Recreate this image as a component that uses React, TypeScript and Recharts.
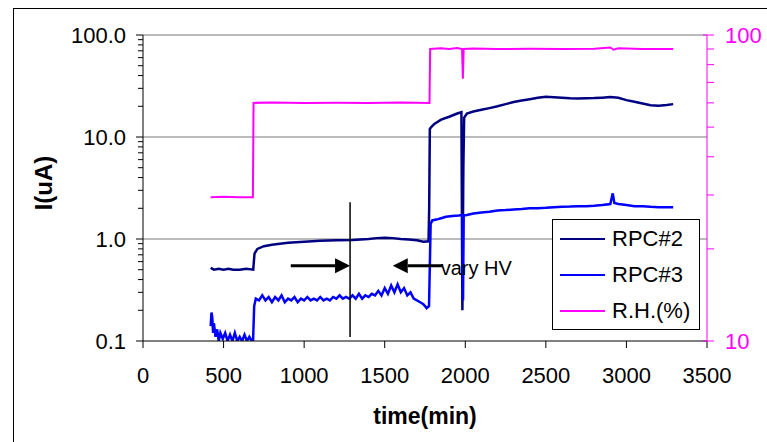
import React from "react";
import { LineChart, Line, XAxis, YAxis, ReferenceLine, ReferenceDot, Legend } from "recharts";

// time (min), current (uA)
const RPC2: [number, number][] = [
  [420, 0.52], [440, 0.5], [470, 0.51], [500, 0.5], [530, 0.51], [560, 0.5], [600, 0.5], [640, 0.51], [684, 0.5],
  [692, 0.72], [710, 0.8], [750, 0.85], [800, 0.88], [900, 0.92], [1000, 0.94], [1100, 0.96], [1200, 0.97],
  [1300, 0.98], [1400, 1.0], [1450, 1.02], [1500, 1.03], [1550, 1.02], [1600, 1.0], [1650, 0.99], [1700, 0.97],
  [1740, 0.94], [1772, 0.95], [1776, 2.0], [1780, 12], [1790, 12.6], [1810, 13.5], [1850, 14.8], [1900, 15.8],
  [1950, 17], [1976, 17.5], [1982, 0.2], [1988, 5], [1993, 15.5], [2010, 17], [2050, 17.8], [2100, 18.5],
  [2150, 19.2], [2200, 20], [2250, 21], [2300, 22], [2350, 22.8], [2400, 23.5], [2450, 24.2], [2500, 24.8],
  [2550, 24.5], [2600, 24.3], [2650, 24], [2700, 23.8], [2750, 24], [2800, 24.1], [2850, 24.3], [2900, 24.6],
  [2950, 24.2], [3000, 23], [3050, 22.2], [3100, 21.3], [3150, 20.5], [3200, 20.3], [3250, 20.6], [3290, 21],
];

const RPC3: [number, number][] = [
  [420, 0.14], [425, 0.19], [430, 0.17], [435, 0.12], [440, 0.15], [450, 0.11], [460, 0.13], [470, 0.1],
  [480, 0.12], [495, 0.105], [510, 0.12], [525, 0.1], [540, 0.115], [555, 0.1], [570, 0.12], [585, 0.1],
  [600, 0.11], [615, 0.1], [630, 0.115], [645, 0.1], [660, 0.11], [675, 0.1], [683, 0.1], [690, 0.22],
  [700, 0.26], [720, 0.25], [740, 0.28], [760, 0.25], [780, 0.27], [800, 0.24], [820, 0.27], [840, 0.25],
  [860, 0.28], [880, 0.24], [900, 0.26], [920, 0.25], [940, 0.27], [960, 0.24], [980, 0.26], [1000, 0.25],
  [1020, 0.27], [1040, 0.25], [1060, 0.26], [1080, 0.25], [1100, 0.27], [1120, 0.25], [1140, 0.26],
  [1160, 0.25], [1180, 0.27], [1200, 0.26], [1220, 0.28], [1240, 0.26], [1260, 0.27], [1280, 0.26],
  [1300, 0.28], [1320, 0.26], [1340, 0.29], [1360, 0.26], [1380, 0.28], [1400, 0.27], [1420, 0.29],
  [1440, 0.28], [1460, 0.31], [1480, 0.28], [1500, 0.33], [1520, 0.29], [1540, 0.35], [1560, 0.3],
  [1580, 0.36], [1600, 0.3], [1620, 0.33], [1640, 0.28], [1660, 0.3], [1680, 0.26], [1700, 0.25],
  [1720, 0.24], [1740, 0.23], [1760, 0.21], [1775, 0.22], [1785, 1.4], [1795, 1.52], [1820, 1.55],
  [1850, 1.6], [1880, 1.65], [1920, 1.68], [1960, 1.7], [1983, 1.72], [1986, 0.25], [1990, 1.7],
  [2010, 1.72], [2050, 1.78], [2100, 1.82], [2150, 1.85], [2200, 1.9], [2250, 1.92], [2300, 1.95],
  [2350, 1.97], [2400, 2.0], [2450, 2.0], [2500, 2.02], [2550, 2.05], [2600, 2.07], [2650, 2.08],
  [2700, 2.1], [2750, 2.1], [2800, 2.12], [2850, 2.15], [2900, 2.2], [2915, 2.8], [2925, 2.25],
  [2950, 2.2], [3000, 2.15], [3050, 2.1], [3100, 2.1], [3150, 2.07], [3200, 2.05], [3250, 2.05], [3290, 2.05],
];

// time (min), relative humidity (%)
const RH: [number, number][] = [
  [420, 29.5], [500, 29.6], [600, 29.5], [682, 29.5], [686, 60], [800, 60.2], [1000, 60], [1200, 60.1],
  [1400, 60], [1600, 60.2], [1778, 60], [1782, 90], [1850, 90.5], [1900, 90], [1950, 90.6], [1980, 90],
  [1985, 72], [1990, 90], [2050, 90.3], [2200, 90], [2400, 90.2], [2600, 90], [2800, 90.1], [2900, 91],
  [2920, 89.5], [2950, 90.5], [3100, 90], [3290, 90],
];

const X_TICKS = [0, 500, 1000, 1500, 2000, 2500, 3000, 3500];
const LEFT_TICKS = [0.1, 0.2, 0.3, 0.4, 0.5, 0.6, 0.7, 0.8, 0.9, 1, 2, 3, 4, 5, 6, 7, 8, 9, 10, 20, 30, 40, 50, 60, 70, 80, 90, 100];
const LEFT_MAJOR: Record<string, string> = { "0.1": "0.1", "1": "1.0", "10": "10.0", "100": "100.0" };
const RIGHT_TICKS = [10, 20, 30, 40, 50, 60, 70, 80, 90, 100];
const RIGHT_MAJOR = [10, 100];
const GRID_Y = [1, 10, 100];

const SERIES = [
  { name: "RPC#2", color: "#000080" },
  { name: "RPC#3", color: "#0000FF" },
  { name: "R.H.(%)", color: "#FF00FF" },
];

// annotation values (data coords)
const MARK_T = 1285;
const MARK_Y = [0.1095, 2.29];
const ARROW_Y = 0.547;
const ARROW_R = [917, 1285];
const ARROW_L = [1862, 1550];
const NOTE = { t: 1847, v: 0.444, text: "vary HV" };

const FONT = '"Liberation Sans", Arial, sans-serif';
const TICK_FS = 22;

const toObj = (arr: [number, number][]) => arr.map(([t, v]) => ({ t, v }));

const XTick = (p: any) => {
  const { x, y, payload } = p;
  return (
    <g>
      <line x1={x} x2={x} y1={y} y2={y + 7} stroke="#000" />
      <text x={x} y={y + 42} textAnchor="middle" fontSize={TICK_FS} fontFamily={FONT} fill="#000">
        {payload.value}
      </text>
    </g>
  );
};

const LeftTick = (p: any) => {
  const { x, y, payload } = p;
  const lab = LEFT_MAJOR[String(payload.value)];
  return (
    <g>
      <line x1={x} x2={x - (lab ? 7 : 5)} y1={y} y2={y} stroke="#000" />
      {lab && (
        <text x={x - 17} y={y} dy="0.36em" textAnchor="end" fontSize={TICK_FS} fontFamily={FONT} fill="#000">
          {lab}
        </text>
      )}
    </g>
  );
};

const RightTick = (p: any) => {
  const { x, y, payload } = p;
  const major = RIGHT_MAJOR.includes(payload.value);
  return (
    <g>
      <line x1={major ? x - 4 : x} x2={x + 7} y1={y} y2={y} stroke="#FF00FF" />
      {major && (
        <text x={x + 18} y={y} dy="0.36em" textAnchor="start" fontSize={TICK_FS} fontFamily={FONT} fill="#FF00FF">
          {payload.value}
        </text>
      )}
    </g>
  );
};

const XTitle = (p: any) => {
  const vb = p.viewBox || { x: 143, y: 341, width: 564, height: 101 };
  return (
    <text x={vb.x + vb.width / 2} y={vb.y + 83} textAnchor="middle" fontSize={23} fontWeight="bold" fontFamily={FONT} fill="#000">
      time(min)
    </text>
  );
};

const YTitle = (p: any) => {
  const vb = p.viewBox || { x: 0, y: 35, width: 143, height: 306 };
  const cx = vb.x + 43;
  const cy = vb.y + vb.height / 2 - 5;
  return (
    <text x={cx} y={cy} dy="0.36em" transform={`rotate(-90 ${cx} ${cy})`} textAnchor="middle" fontSize={24} fontWeight="bold" fontFamily={FONT} fill="#000">
      I(uA)
    </text>
  );
};

const Arrow = (p: any) => {
  const { x1, y1, x2, y2 } = p;
  const dir = x2 > x1 ? 1 : -1;
  const hl = 15;
  const hw = 7.5;
  return (
    <g>
      <line x1={x1} y1={y1} x2={x2 - dir * hl} y2={y2} stroke="#000" strokeWidth={3} />
      <polygon points={`${x2},${y2} ${x2 - dir * hl},${y2 - hw} ${x2 - dir * hl},${y2 + hw}`} fill="#000" />
    </g>
  );
};

const NoteText = (p: any) => (
  <text x={p.cx} y={p.cy} fontSize={20} fontFamily={FONT} fill="#000">
    {NOTE.text}
  </text>
);

const LegendBox = () => (
  <div
    style={{
      width: 146,
      height: 109,
      border: "1px solid #000",
      background: "#fff",
      fontFamily: FONT,
      fontSize: 22,
      boxSizing: "content-box",
    }}
  >
    {SERIES.map((s, i) => (
      <div key={s.name} style={{ position: "absolute", left: 8, top: 8 + i * 36, height: 24, display: "flex", alignItems: "center" }}>
        <div style={{ width: 45, height: 2, background: s.color }} />
        <span style={{ marginLeft: 7, color: "#000", whiteSpace: "nowrap" }}>{s.name}</span>
      </div>
    ))}
  </div>
);

export default function App() {
  return (
    <div style={{ position: "absolute", left: 0, top: 0, width: 767, height: 442, overflow: "hidden", background: "#fff" }}>
      <div style={{ position: "absolute", left: 13, top: 8, width: 800, height: 500, borderLeft: "1.5px solid #000", borderTop: "1.5px solid #000" }} />
      <div style={{ position: "absolute", left: 0, top: 0 }}>
        <LineChart width={767} height={442} margin={{ top: 35, right: 0, bottom: 0, left: 0 }}>
          <XAxis
            dataKey="t"
            type="number"
            domain={[0, 3500]}
            ticks={X_TICKS}
            interval={0}
            height={101}
            tickSize={0}
            tickMargin={0}
            tick={<XTick />}
            axisLine={{ stroke: "#000" }}
            allowDataOverflow
            label={<XTitle />}
          />
          <YAxis
            yAxisId="left"
            orientation="left"
            scale="log"
            domain={[0.1, 100]}
            ticks={LEFT_TICKS}
            interval={0}
            width={143}
            tickSize={0}
            tickMargin={0}
            tick={<LeftTick />}
            axisLine={{ stroke: "#000" }}
            allowDataOverflow
            label={<YTitle />}
          />
          <YAxis
            yAxisId="right"
            orientation="right"
            scale="log"
            domain={[10, 100]}
            ticks={RIGHT_TICKS}
            interval={0}
            width={60}
            tickSize={0}
            tickMargin={0}
            tick={<RightTick />}
            axisLine={{ stroke: "#FF00FF" }}
            allowDataOverflow
          />
          {GRID_Y.map((g) => (
            <ReferenceLine key={g} yAxisId="left" y={g} stroke="#777" strokeWidth={1} />
          ))}
          <Line yAxisId="right" data={toObj(RH)} dataKey="v" name="R.H.(%)" stroke="#FF00FF" strokeWidth={2} dot={false} isAnimationActive={false} />
          <Line yAxisId="left" data={toObj(RPC2)} dataKey="v" name="RPC#2" stroke="#000080" strokeWidth={2.5} dot={false} isAnimationActive={false} />
          <Line yAxisId="left" data={toObj(RPC3)} dataKey="v" name="RPC#3" stroke="#0000FF" strokeWidth={2.5} dot={false} isAnimationActive={false} />
          <ReferenceLine
            yAxisId="left"
            segment={[{ x: MARK_T, y: MARK_Y[0] }, { x: MARK_T, y: MARK_Y[1] }]}
            stroke="#000"
            strokeWidth={1.5}
          />
          <ReferenceLine
            yAxisId="left"
            segment={[{ x: ARROW_R[0], y: ARROW_Y }, { x: ARROW_R[1], y: ARROW_Y }]}
            shape={Arrow}
          />
          <ReferenceLine
            yAxisId="left"
            segment={[{ x: ARROW_L[0], y: ARROW_Y }, { x: ARROW_L[1], y: ARROW_Y }]}
            shape={Arrow}
          />
          <ReferenceDot yAxisId="left" x={NOTE.t} y={NOTE.v} r={1} shape={NoteText} />
          <Legend
            layout="vertical"
            align="center"
            verticalAlign="middle"
            content={<LegendBox />}
            wrapperStyle={{ position: "absolute", left: 552, top: 219, width: 148, height: 111 }}
          />
        </LineChart>
      </div>
    </div>
  );
}
